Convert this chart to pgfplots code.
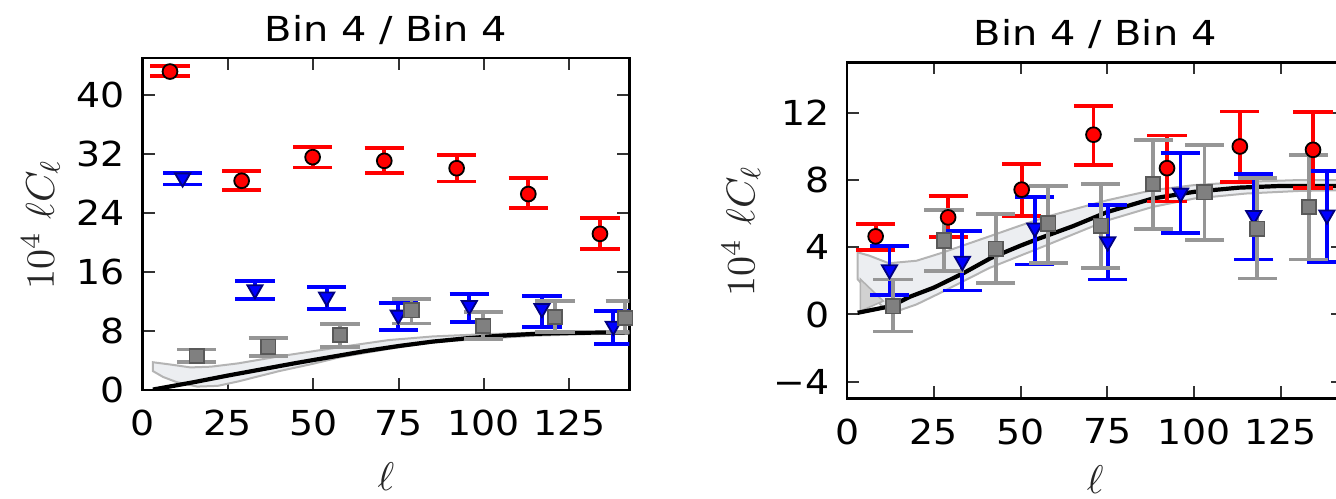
\documentclass[border=0pt]{standalone}
\usepackage[no-math]{fontspec}
\setmainfont{DejaVu Sans}
\usepackage{pgfplots}
\pgfplotsset{compat=1.18}
\usepackage{pgfplotstable}

\definecolor{bandfill}{RGB}{236,238,241}
\definecolor{bandedge}{RGB}{180,180,180}
\definecolor{errgray}{RGB}{150,150,150}
\definecolor{sqfill}{RGB}{128,128,128}

% ---------- left panel data ----------
\pgfplotstableread{
x y ep em
8.0 43.2 0.8 0.6
29.0 28.4 1.3 1.2
49.8 31.6 1.4 1.4
70.8 31.1 1.7 1.6
92.0 30.1 1.8 1.8
113.0 26.6 2.2 1.9
134.0 21.2 2.1 2.1
}\Lred
\pgfplotstableread{
x y ep em
11.7 28.8 0.6 0.9
32.9 13.65 1.15 1.25
53.9 12.65 1.35 1.65
74.9 10.2 1.6 2.0
95.7 11.5 1.6 2.2
117.0 11.1 1.7 2.5
137.9 8.7 2.05 2.45
}\Lblue
\pgfplotstableread{
x y ep em
15.8 4.64 0.9 0.77
36.8 5.9 1.2 1.26
57.8 7.47 1.49 1.57
78.8 10.85 1.55 1.8
99.8 8.7 1.9 1.8
120.8 9.95 2.15 2.05
141.4 9.8 2.3 1.9
}\Lgray
% ---------- right panel data ----------
\pgfplotstableread{
x y ep em
8.2 4.65 0.75 0.83
29.1 5.78 1.25 1.17
50.3 7.43 1.52 1.59
71.0 10.7 1.7 1.8
92.2 8.71 1.94 1.98
113.2 10.0 2.08 2.12
134.3 9.8 2.24 2.28
}\Rred
\pgfplotstableread{
x y ep em
12.2 2.67 1.39 1.52
33.2 3.17 1.78 1.74
54.1 5.15 1.82 2.18
75.1 4.33 2.17 2.25
96.1 7.23 2.37 2.38
117.2 5.9 2.46 2.63
138.3 5.93 2.6 2.8
}\Rblue
\pgfplotstableread{
x y ep em
13.2 0.49 1.59 1.5
27.9 4.4 1.84 1.79
42.8 3.92 2.06 2.04
58.0 5.41 2.26 2.34
73.1 5.29 2.47 2.52
88.2 7.76 2.64 2.67
103.0 7.27 2.83 2.82
118.2 5.11 3.0 2.97
133.1 6.4 3.07 3.13
}\Rgray

\pgfplotsset{
  panel/.style={
    scale only axis, anchor=south west,
    xmin=0, xtick={0,25,...,125},
    tick align=inside, major tick length=3pt,
    axis line style={line width=0.6pt},
    every tick/.style={line width=0.5pt, black!80},
    ticklabel style={font=\fontsize{8.6}{9}\selectfont, xscale=1.1},
    /pgf/number format/assume math mode=true,
    xticklabel style={yshift=-1.5pt},
    yticklabel style={xshift=-0.5pt},
    every axis title shift=0pt,
    title style={font=\fontsize{8.6}{10}\selectfont, xscale=1.16, at={(0.5,1)}, anchor=base, yshift=4.2pt},
    xlabel={$\ell$},
    ylabel={$10^4\ \ell C_\ell$},
    ylabel style={anchor=center, font=\fontsize{10}{12}\selectfont, black!85},
    xlabel style={anchor=north, inner sep=0pt, font=\fontsize{10}{12}\selectfont, black!85},
  },
  redpts/.style={only marks, mark=*, mark size=1.85pt,
    mark options={fill=red, draw=black, line width=0.45pt},
    error bars/.cd, y dir=both, y explicit,
    error bar style={red, line width=0.95pt},
    error mark options={rotate=90, red, line width=0.95pt, mark size=4.9pt}},
  bluepts/.style={only marks, mark=triangle*, mark size=2.2pt,
    mark options={fill=blue, draw=blue!50!black, line width=0.45pt, rotate=180},
    error bars/.cd, y dir=both, y explicit,
    error bar style={blue, line width=0.95pt},
    error mark options={rotate=90, blue, line width=0.95pt, mark size=4.9pt}},
  graypts/.style={only marks, mark=square*, mark size=1.8pt,
    mark options={fill=sqfill, draw=black!65, line width=0.45pt},
    error bars/.cd, y dir=both, y explicit,
    error bar style={errgray, line width=0.95pt},
    error mark options={rotate=90, errgray, line width=0.95pt, mark size=4.9pt}},
}

\begin{document}
\begin{tikzpicture}
\useasboundingbox (0,0) rectangle (334pt,124.75pt);
\clip (0,0) rectangle (334pt,124.75pt);

% ================= LEFT =================
\begin{axis}[panel,
  at={(35.675pt,27.175pt)}, width=121.65pt, height=83pt,
  xmax=142.6, ymin=0, ymax=45, ytick={0,8,...,40},
  title={Bin 4 / Bin 4},
  ylabel style={at={(axis description cs:-0.21,0.5)}},
  xlabel style={at={(axis description cs:0.5,-0.2145)}},
]
\addplot[fill=bandfill, draw=bandedge, line width=0.5pt] coordinates {
(3,3.8) (8,3.5) (14,3.1) (20,3.2) (28,3.65) (40,4.6) (50,5.3) (60,6.0) (72,6.8) (85,7.3) (100,7.6) (115,7.8) (130,7.9) (143,7.9)
(143,7.7) (130,7.6) (115,7.4) (100,7.0) (85,6.5) (72,5.6) (58,4.5) (50,3.6) (40,2.6) (28,1.2) (22,0.6) (16,0.5) (10,1.1) (6,1.8) (3,2.6)
} -- cycle;
\addplot[black, line width=1.05pt, no marks] coordinates {
(3,0.1) (15,1.1) (25,2.0) (35,2.85) (45,3.7) (55,4.5) (65,5.3) (75,6.0) (85,6.6) (95,7.05) (105,7.4) (115,7.65) (125,7.78) (135,7.83) (143,7.85)
};
\addplot[redpts] table[x=x, y=y, y error plus=ep, y error minus=em] {\Lred};
\addplot[bluepts] table[x=x, y=y, y error plus=ep, y error minus=em] {\Lblue};
\addplot[graypts] table[x=x, y=y, y error plus=ep, y error minus=em] {\Lgray};
\end{axis}

% ================= RIGHT =================
\begin{axis}[panel,
  at={(211.8pt,25.125pt)}, width=124pt, height=84pt,
  xmax=143, ymin=-5, ymax=15, ytick={-4,0,4,8,12}, yticklabels={−4,0,4,8,12},
  title={Bin 4 / Bin 4},
  ylabel style={at={(axis description cs:-0.214,0.5)}},
  xlabel style={at={(axis description cs:0.5,-0.198)}},
]
\addplot[fill=bandfill, draw=bandedge, line width=0.5pt] coordinates {
(3,3.7) (6.4,3.5) (12,3.05) (20,3.2) (27,3.65) (41,4.65) (50,5.3) (58,5.85) (75,6.8) (88,7.4) (100,7.7) (115,7.9) (130,8.0) (143,8.0)
(143,7.4) (130,7.35) (115,7.2) (100,6.9) (88,6.4) (75,5.6) (56,4.0) (41,2.77) (27,1.3) (20,0.6) (13,0.1) (10,0.5) (6,1.4) (3,2.1)
} -- cycle;
\addplot[fill=black!18, draw=black!30, line width=0.4pt] coordinates {(3.8,0.2) (3.8,2.1) (10.4,0.8)} -- cycle;
\addplot[black, line width=1.05pt, no marks] coordinates {
(3,0.1) (12.7,0.5) (18,1.05) (25,1.6) (33.6,2.47) (41.4,3.36) (50,4.1) (55,4.5) (65,5.25) (75,6.1) (88,6.9) (100,7.3) (113,7.55) (125,7.65) (143,7.65)
};
\addplot[redpts] table[x=x, y=y, y error plus=ep, y error minus=em] {\Rred};
\addplot[bluepts] table[x=x, y=y, y error plus=ep, y error minus=em] {\Rblue};
\addplot[graypts] table[x=x, y=y, y error plus=ep, y error minus=em] {\Rgray};
\end{axis}
\end{tikzpicture}
\end{document}
